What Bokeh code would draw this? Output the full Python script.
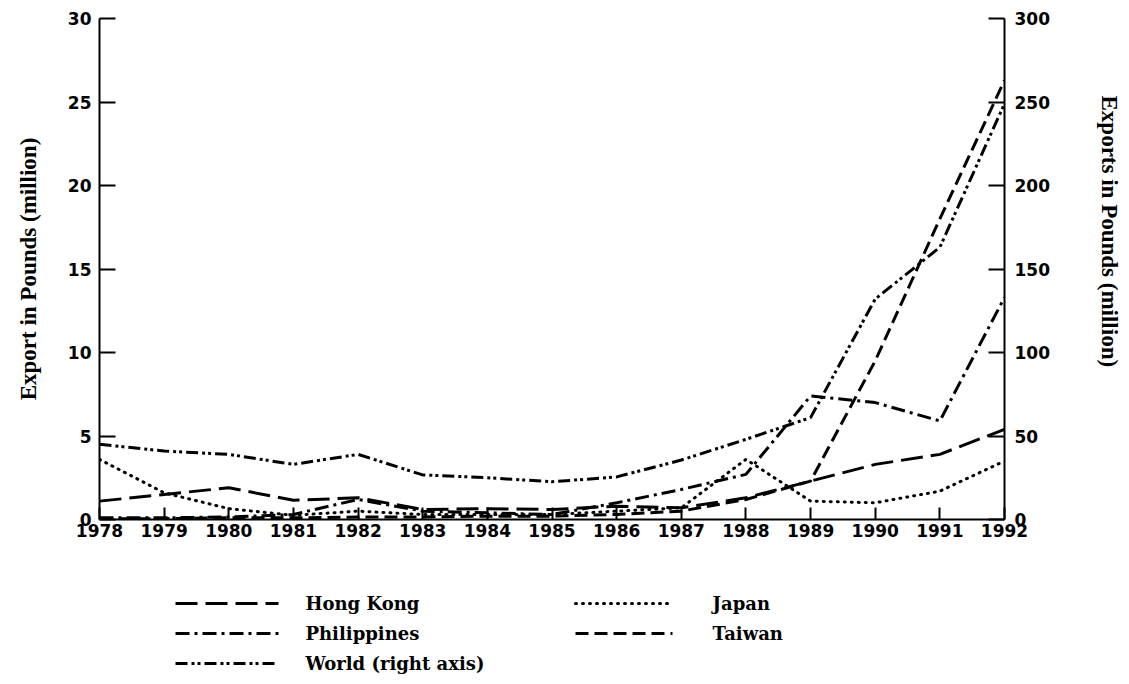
from bokeh.plotting import figure
from bokeh.models import Range1d, LinearAxis, FixedTicker, Title
from bokeh.layouts import column
from bokeh.embed import file_html
from bokeh.resources import INLINE
from bokeh.core.properties import value

# ---------------- data ----------------
years = list(range(1978, 1993))
hong_kong = [1.1, 1.5, 1.9, 1.15, 1.3, 0.6, 0.65, 0.6, 0.8, 0.7, 1.3, 2.3, 3.3, 3.9, 5.4]
philippines = [0.1, 0.1, 0.15, 0.3, 1.2, 0.5, 0.4, 0.3, 1.0, 1.8, 2.7, 7.4, 7.0, 5.9, 13.3]
japan = [3.6, 1.6, 0.65, 0.25, 0.5, 0.3, 0.3, 0.3, 0.5, 0.7, 3.6, 1.1, 1.0, 1.7, 3.5]
taiwan = [0.05, 0.05, 0.1, 0.1, 0.15, 0.15, 0.2, 0.2, 0.3, 0.5, 1.2, 2.3, 9.5, 18.0, 26.3]
world = [45, 41, 39, 33, 39, 26.7, 25, 22.6, 25.5, 35.6, 48, 61, 132, 163, 249]  # right axis

left_ticks = [0, 5, 10, 15, 20, 25, 30]
right_ticks = [0, 50, 100, 150, 200, 250, 300]

legend_names = ["Hong Kong", "Philippines", "World (right axis)", "Japan", "Taiwan"]
left_title = "Export in Pounds (million)"
right_title = "Exports in Pounds (million)"

# ---------------- styles ----------------
dash_hk = "22 8"
dash_ph = "14 5 3 5"
dash_wo = "12 4 3 3 3 4"
dash_jp = "1 6"
dash_tw = "13 6"

W = 1125
FL, FR, FT, FB = 99, 1004, 18, 519  # frame edges in page px
H_MAIN = 560

p = figure(width=W, height=H_MAIN, x_range=Range1d(1978, 1992), y_range=Range1d(0, 30),
           output_backend="svg", toolbar_location=None,
           min_border_left=FL, min_border_right=W - FR, min_border_top=FT,
           min_border_bottom=H_MAIN - FB)
p.outline_line_color = None
p.grid.visible = False
p.background_fill_color = "white"
p.border_fill_color = "white"

p.extra_y_ranges = {"right": Range1d(0, 300)}
raxis = LinearAxis(y_range_name="right", ticker=FixedTicker(ticks=right_ticks))
p.add_layout(raxis, "right")

# blank spacer axis (white, label-less tick) that pushes the right-hand title outward
spacer = LinearAxis(y_range_name="right", ticker=FixedTicker(ticks=[0]), axis_line_color=None,
                    major_tick_line_color="white", major_tick_line_width=1,
                    minor_tick_line_color=None, major_tick_in=0, major_tick_out=44,
                    minor_tick_in=0, minor_tick_out=0, major_label_overrides={0: ""})
p.add_layout(spacer, "right")

rtitle = Title(text=right_title, align="left", offset=95 - FT, vertical_align="bottom",
               standoff=0, text_font="Liberation Serif", text_font_style="bold",
               text_font_size="23px", text_color="black")
p.add_layout(rtitle, "right")

p.xaxis.ticker = FixedTicker(ticks=years)
p.yaxis[0].ticker = FixedTicker(ticks=left_ticks)
p.yaxis[0].axis_label = left_title

for ax in [p.xaxis[0], p.yaxis[0], raxis]:
    ax.axis_line_width = 2
    ax.axis_line_color = "black"
    ax.major_tick_line_width = 2
    ax.major_tick_line_color = "black"
    ax.major_tick_in = 16
    ax.major_tick_out = 0
    ax.minor_tick_in = 0
    ax.minor_tick_out = 0
    ax.major_label_text_font = "DejaVu Sans"
    ax.major_label_text_font_style = "bold"
    ax.major_label_text_font_size = "17px"
    ax.major_label_text_color = "black"
    ax.axis_label_text_font = "Liberation Serif"
    ax.axis_label_text_font_style = "bold"
    ax.axis_label_text_font_size = "23px"
    ax.axis_label_text_color = "black"

p.xaxis.major_tick_in = 12
p.xaxis.major_label_standoff = 4
p.yaxis[0].major_label_standoff = 8
p.yaxis[0].axis_label_standoff = 24
raxis.major_label_standoff = 10

p.line(years, hong_kong, line_dash=dash_hk, line_width=3, color="black")
p.line(years, philippines, line_dash=dash_ph, line_width=3, color="black")
p.line(years, taiwan, line_dash=dash_tw, line_width=3, color="black")
p.line(years, japan, line_dash=dash_jp, line_cap="round", line_width=3, color="black")
p.line(years, world, y_range_name="right", line_dash=dash_wo, line_width=3, color="black")

# ---------------- legend (separate strip below; frame aligned with main frame) ----------------
LH = 116
leg = figure(width=W, height=LH, x_range=Range1d(FL, FR), y_range=Range1d(H_MAIN + LH, H_MAIN),
             output_backend="svg", toolbar_location=None,
             min_border_left=FL, min_border_right=W - FR, min_border_top=0, min_border_bottom=0,
             x_axis_location=None, y_axis_location=None)
leg.outline_line_color = None
leg.grid.visible = False
leg.background_fill_color = "white"
leg.border_fill_color = "white"

rows = [603, 633, 663, 603, 633]
sx0 = [175, 175, 175, 575, 575]
sx1 = [278, 278, 278, 672, 672]
tx = [305, 305, 305, 712, 712]
dashes = [dash_hk, dash_ph, dash_wo, dash_jp, dash_tw]
for i in range(5):
    cap = "round" if dashes[i] == dash_jp else "butt"
    leg.line([sx0[i], sx1[i]], [rows[i], rows[i]], line_dash=dashes[i], line_width=3,
             color="black", line_cap=cap)
leg.text(x=tx, y=rows, text=legend_names, text_font=value("DejaVu Serif"),
         text_font_style="bold", text_font_size="18px", text_baseline="middle",
         text_color="black")

layout = column(p, leg, spacing=0)
open("out.html", "w").write(file_html(layout, INLINE))
